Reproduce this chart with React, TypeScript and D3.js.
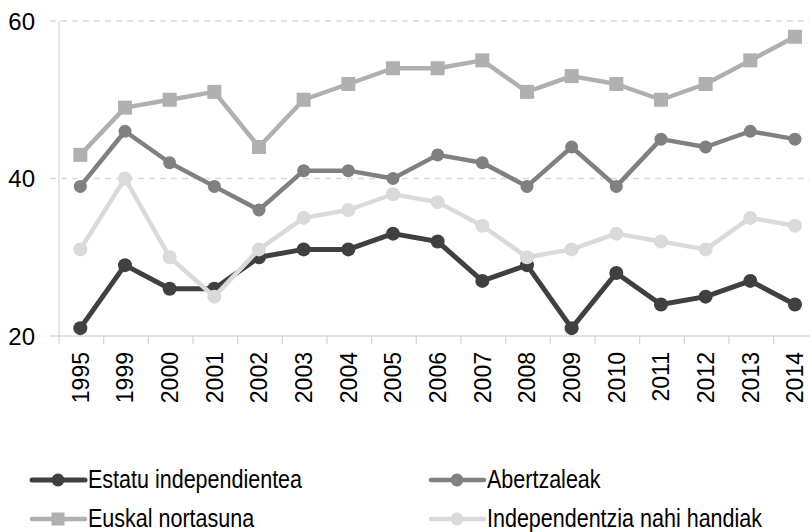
import React, { useLayoutEffect, useRef, useState } from "react";
import * as d3 from "d3";

const years = ["1995","1999","2000","2001","2002","2003","2004","2005","2006","2007","2008","2009","2010","2011","2012","2013","2014"];
const estatu = [21, 29, 26, 26, 30, 31, 31, 33, 32, 27, 29, 21, 28, 24, 25, 27, 24];
const abertzaleak = [39, 46, 42, 39, 36, 41, 41, 40, 43, 42, 39, 44, 39, 45, 44, 46, 45];
const euskal = [43, 49, 50, 51, 44, 50, 52, 54, 54, 55, 51, 53, 52, 50, 52, 55, 58];
const independentzia = [31, 40, 30, 25, 31, 35, 36, 38, 37, 34, 30, 31, 33, 32, 31, 35, 34];
const yTicks = [20, 40, 60];

const seriesNames = ["Estatu independientea", "Abertzaleak", "Euskal nortasuna", "Independentzia nahi handiak"];

const FONT = "'Liberation Sans', Arial, Arimo, Roboto, Helvetica, sans-serif";

export default function App() {
  const W = 810, H = 532;
  const x = d3.scaleBand<string>().domain(years).range([58, 817.3]);
  const y = d3.scaleLinear().domain([20, 60]).range([336, 21]);
  const cx = (yr: string) => (x(yr) as number) + x.bandwidth() / 2;

  const firstRef = useRef<SVGTextElement | null>(null);
  const [sx, setSx] = useState<number>(0.8);
  useLayoutEffect(() => {
    const el = firstRef.current;
    if (el) {
      const w = el.getComputedTextLength();
      if (w > 0) setSx(214 / w);
    }
  }, []);

  const series = [
    { name: seriesNames[0], values: estatu, color: "#404040", width: 5, marker: "circle", r: 7 },
    { name: seriesNames[1], values: abertzaleak, color: "#808080", width: 4.5, marker: "circle", r: 6.5 },
    { name: seriesNames[2], values: euskal, color: "#b0b0b0", width: 4.5, marker: "square", r: 7 },
    { name: seriesNames[3], values: independentzia, color: "#dadada", width: 4.5, marker: "circle", r: 7 },
  ];

  const line = d3.line<number>().x((_, i) => cx(years[i])).y((d) => y(d));

  const legendPos = [
    { x: 32, y: 480 },
    { x: 431, y: 480 },
    { x: 32, y: 519 },
    { x: 431, y: 519 },
  ];

  return (
    <svg width={W} height={H} style={{ position: "absolute", left: 0, top: 0, fontFamily: FONT }}>
      <rect width={W} height={H} fill="#fff" />
      {yTicks.filter((t) => t !== 20).map((t) => (
        <line key={t} x1={50} x2={W} y1={y(t)} y2={y(t)} stroke="#d9d9d9" strokeWidth={1.3} strokeDasharray="6,5" />
      ))}
      <line x1={59} x2={59} y1={y(60)} y2={y(20)} stroke="#d9d9d9" strokeWidth={1.3} />
      <line x1={50} x2={W} y1={y(20)} y2={y(20)} stroke="#d9d9d9" strokeWidth={1.3} />
      {years.map((yr) => (
        <line key={"t" + yr} x1={(x(yr) as number) + 1} x2={(x(yr) as number) + 1} y1={y(20)} y2={y(20) + 8} stroke="#d9d9d9" strokeWidth={1.3} />
      ))}
      {yTicks.map((t) => (
        <text key={"yl" + t} x={35} y={y(t) + 8.5} textAnchor="end" fontSize={24} fill="#000" style={{ fontFamily: FONT }}>{t}</text>
      ))}
      {years.map((yr) => (
        <text key={"xl" + yr} transform={`translate(${cx(yr) + 8.5},352) rotate(-90)`} textAnchor="end" fontSize={23} fill="#000" style={{ fontFamily: FONT }}>{yr}</text>
      ))}
      {series.map((s) => (
        <g key={s.name}>
          <path d={line(s.values) as string} fill="none" stroke={s.color} strokeWidth={s.width} strokeLinejoin="round" />
          {s.values.map((v, i) =>
            s.marker === "circle" ? (
              <circle key={i} cx={cx(years[i])} cy={y(v)} r={s.r} fill={s.color} />
            ) : (
              <rect key={i} x={cx(years[i]) - s.r} y={y(v) - s.r} width={s.r * 2} height={s.r * 2} fill={s.color} />
            )
          )}
        </g>
      ))}
      {series.map((s, i) => {
        const p = legendPos[i];
        return (
          <g key={"lg" + i}>
            <line x1={p.x} x2={p.x + 53} y1={p.y} y2={p.y} stroke={s.color} strokeWidth={s.width} strokeLinecap="round" />
            {s.marker === "circle" ? (
              <circle cx={p.x + 26} cy={p.y} r={6.5} fill={s.color} />
            ) : (
              <rect x={p.x + 19.5} y={p.y - 6.5} width={13} height={13} fill={s.color} />
            )}
            <text ref={i === 0 ? firstRef : undefined}
              transform={`translate(${p.x + 56},${p.y + 8}) scale(${sx},1)`}
              fontSize={25} fill="#000" style={{ fontFamily: FONT }}>{s.name}</text>
          </g>
        );
      })}
    </svg>
  );
}
